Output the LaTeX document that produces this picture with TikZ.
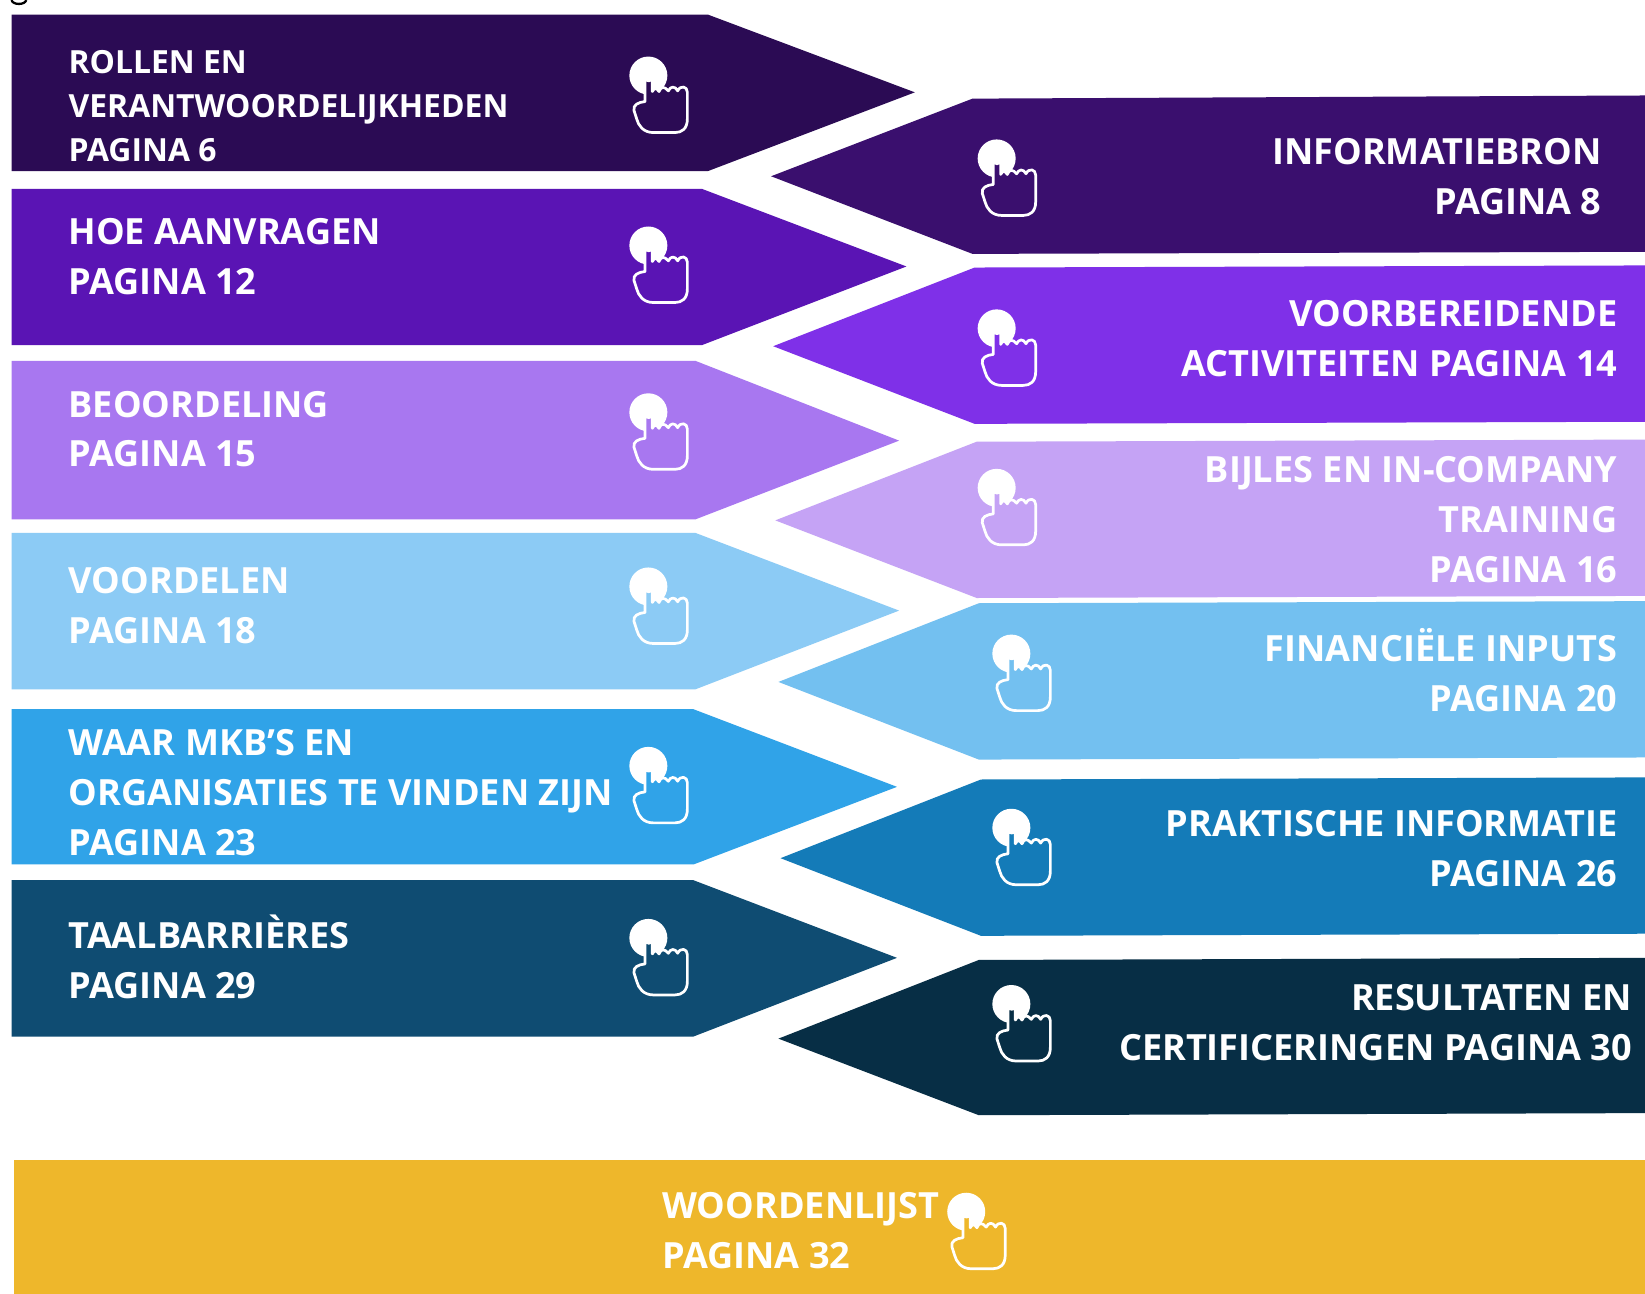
\documentclass[tikz,border=0pt]{standalone}
\usepackage{fontspec}
\setmainfont{Open Sans}[BoldFont=* Bold]
\definecolor{la}{HTML}{2B0B54}\definecolor{lb}{HTML}{5A14B4}\definecolor{lc}{HTML}{A877F0}
\definecolor{ld}{HTML}{8CCBF5}\definecolor{le}{HTML}{30A3E8}\definecolor{lf}{HTML}{0F4C72}
\definecolor{ra}{HTML}{3A0F6E}\definecolor{rb}{HTML}{7F30E8}\definecolor{rc}{HTML}{C5A3F5}
\definecolor{rd}{HTML}{73C0F0}\definecolor{re}{HTML}{147BB8}\definecolor{rf}{HTML}{072E45}
\definecolor{gold}{HTML}{EEB72B}
\tikzset{
 lab/.style={text=white,inner sep=0pt,font=\fontsize{17.2}{23.75}\selectfont\bfseries},
 labl/.style={lab,align=left,anchor=base west},
 labr/.style={lab,align=right,anchor=base east},
}
\newcommand{\handicon}[3]{%
 \begin{scope}[shift={(#1,#2)},x=0.1589pt,y=-0.1589pt]
  \fill[white] (0,0) circle (57);
  \draw[white,line width=1.3pt,fill=#3,line join=round]
   (-10,5) arc[start angle=180,end angle=0,radius=11] -- (12,48)
   .. controls (18,36) and (24,36) .. (32,48)
   .. controls (38,32) and (48,32) .. (60,46)
   .. controls (66,32) and (80,30) .. (88,46)
   .. controls (96,28) and (117,32) .. (117,50)
   -- (117,130) .. controls (117,160) and (100,171) .. (80,171)
   -- (15,171) .. controls (-15,171) and (-30,150) .. (-35,130)
   -- (-43,105) .. controls (-47,88) and (-30,80) .. (-10,78) -- cycle;
 \end{scope}}
\begin{document}
\begin{tikzpicture}[x=0.5pt,y=-0.5pt]
\useasboundingbox (0,0) rectangle (1568,1233);
\fill[fill=white] (0,0) rectangle (1568,1233);
\draw[black,line width=1.1pt] (11,0) .. controls (12,5) and (24,5) .. (25,0);
% left arrows
\fill[la] (11,14) -- (675,14) -- (872,88) -- (675,163) -- (11,163) -- cycle;
\fill[lb] (11,180) -- (669,180) -- (864,254) -- (669,329) -- (11,329) -- cycle;
\fill[lc] (11,344) -- (663,344) -- (857,420) -- (663,495) -- (11,495) -- cycle;
\fill[ld] (11,508) -- (663,508) -- (857,582) -- (663,657) -- (11,657) -- cycle;
\fill[le] (11,676) -- (661,676) -- (855,750) -- (661,824) -- (11,824) -- cycle;
\fill[lf] (11,839) -- (661,839) -- (855,913) -- (661,988) -- (11,988) -- cycle;
% right arrows
\fill[ra] (735,168) -- (927,94) -- (1568,91) -- (1568,240) -- (927,242) -- cycle;
\fill[rb] (737,330) -- (929,255) -- (1568,253) -- (1568,402) -- (929,404) -- cycle;
\fill[rc] (739,496) -- (931,421) -- (1568,419) -- (1568,568) -- (931,570) -- cycle;
\fill[rd] (742,650) -- (933,575) -- (1568,573) -- (1568,722) -- (933,724) -- cycle;
\fill[re] (744,818) -- (935,743) -- (1568,741) -- (1568,890) -- (935,892) -- cycle;
\fill[rf] (742,990) -- (933,915) -- (1568,913) -- (1568,1061) -- (933,1063) -- cycle;
\fill[gold] (13,1106) rectangle (1568,1233);
% icons
\handicon{618}{72}{la}\handicon{618}{234}{lb}\handicon{618}{393}{lc}
\handicon{618}{559}{ld}\handicon{618}{730}{le}\handicon{618}{894}{lf}
\handicon{950}{151}{ra}\handicon{950}{313}{rb}\handicon{950}{465}{rc}
\handicon{964}{623}{rd}\handicon{964}{789}{re}\handicon{964}{957}{rf}
\handicon{921}{1155}{gold}
% labels
\node[labl,font=\fontsize{15.2}{21}\selectfont\bfseries] (t1) at (65,154) {ROLLEN EN\\VERANTWOORDELIJKHEDEN\\PAGINA 6};
\node[labl] (t2) at (65,281) {HOE AANVRAGEN\\PAGINA 12};
\node[labl] (t3) at (65,445) {BEOORDELING\\PAGINA 15};
\node[labl] (t4) at (65,613) {VOORDELEN\\PAGINA 18};
\node[labl] (t5) at (65,815) {WAAR MKB'S EN\\ORGANISATIES TE VINDEN ZIJN\\PAGINA 23};
\node[labl] (t6) at (65,952) {TAALBARRIÈRES\\PAGINA 29};
\node[labr] (r1) at (1527,204) {INFORMATIEBRON\\PAGINA 8};
\node[labr] (r2) at (1542,359) {VOORBEREIDENDE\\ACTIVITEITEN PAGINA 14};
\node[labr] (r3) at (1542,555) {BIJLES EN IN-COMPANY\\TRAINING\\PAGINA 16};
\node[labr] (r4) at (1542,678) {FINANCIËLE INPUTS\\PAGINA 20};
\node[labr] (r5) at (1542,845) {PRAKTISCHE INFORMATIE\\PAGINA 26};
\node[labr] (r6) at (1556,1011) {RESULTATEN EN\\CERTIFICERINGEN PAGINA 30};
\node[labl] (b1) at (631,1209) {WOORDENLIJST\\PAGINA 32};
\end{tikzpicture}
\end{document}
